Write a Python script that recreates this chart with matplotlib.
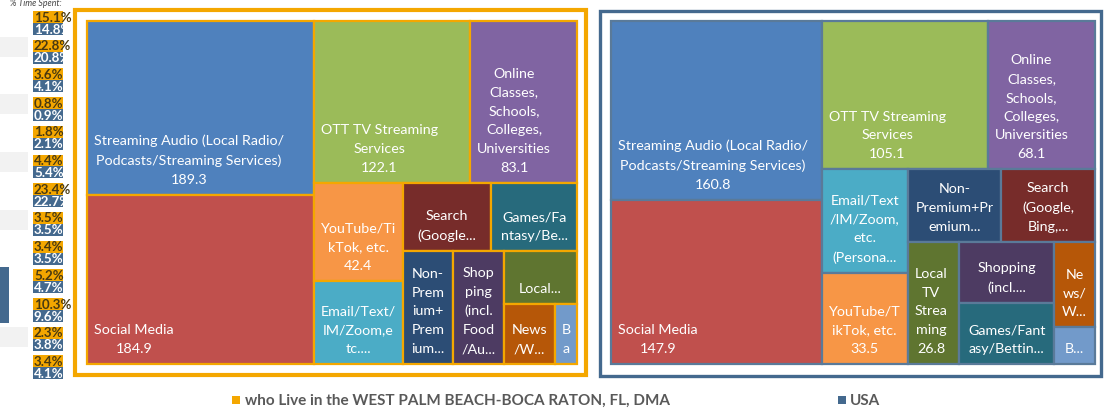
import matplotlib
matplotlib.use("Agg")
import matplotlib.pyplot as plt
from matplotlib.patches import Rectangle

# ---------------- data ----------------
categories = ["OTT TV Streaming Services", "Social Media", "Search", "Banking",
              "News/Weather", "Email/Text/IM/Zoom", "Streaming Audio",
              "Games/Fantasy/Betting", "Shopping", "YouTube/TikTok",
              "Online Classes", "Local TV Streaming", "Non-Premium+Premium"]
pct_local = [15.1, 22.8, 3.6, 0.8, 1.8, 4.4, 23.4, 3.5, 3.4, 5.2, 10.3, 2.3, 3.4]
pct_usa = [14.8, 20.8, 4.1, 0.9, 2.1, 5.4, 22.7, 3.5, 3.5, 4.7, 9.6, 3.8, 4.1]
minutes_local = [122.1, 184.9, 29.1, 6.5, 14.6, 35.6, 189.3, 28.3, 27.5, 42.4, 83.1, 18.6, 27.5]
minutes_usa = [105.1, 147.9, 29.0, 6.4, 14.9, 38.2, 160.8, 24.8, 24.8, 33.5, 68.1, 26.8, 29.0]

names_local = ["OTT TV Streaming\nServices", "Social Media", "Search\n(Google...", "B\na",
               "News\n/W...", "Email/Text/\nIM/Zoom,e\ntc....",
               "Streaming Audio (Local Radio/\nPodcasts/Streaming Services)",
               "Games/Fa\nntasy/Be...", "Shop\nping\n(incl.\nFood\n/Au...",
               "YouTube/Ti\nkTok, etc.", "Online\nClasses,\nSchools,\nColleges,\nUniversities",
               "Local...", "Non-\nPrem\nium+\nPrem\nium..."]
show_val_local = [True, True, False, False, False, False, True, False, False, True, True, False, False]
names_usa = ["OTT TV Streaming\nServices", "Social Media", "Search\n(Google,\nBing,...", "B...",
             "Ne\nws/\nW...", "Email/Text\n/IM/Zoom,\netc.\n(Persona...",
             "Streaming Audio (Local Radio/\nPodcasts/Streaming Services)",
             "Games/Fant\nasy/Bettin...", "Shopping\n(incl....",
             "YouTube/T\nikTok, etc.", "Online\nClasses,\nSchools,\nColleges,\nUniversities",
             "Local\nTV\nStrea\nming", "Non-\nPremium+Pr\nemium..."]
show_val_usa = [True, True, False, False, False, False, True, False, False, True, True, True, False]

legend_labels = ["who Live in the WEST PALM BEACH-BOCA RATON, FL, DMA", "USA"]

# ---------------- style ----------------
tile_colors = ["#9BBB59", "#C0504D", "#772C2A", "#729ACA", "#B65708", "#4BACC6",
               "#4F81BD", "#276A7C", "#4D3B62", "#F79646", "#8064A2", "#5F7530", "#2C4D75"]
ORANGE = "#F4A700"
BLUE = "#44698E"
FONT = "Lato"

# treemap split structure (indices into categories); sizes come from values
tree_local = ('h', [('v', [6, 1]),
                    ('v', [('h', [0, 10]),
                           ('h', [('v', [9, 5]),
                                  ('v', [('h', [2, 7]),
                                         ('h', [12, 8, ('v', [11, ('h', [4, 3])])])])])])])
tree_usa = ('h', [('v', [6, 1]),
                  ('v', [('h', [0, 10]),
                         ('h', [('v', [5, 9]),
                                ('v', [('h', [12, 2]),
                                       ('h', [11, ('v', [8, 7]), ('v', [4, 3])])])])])])


def node_total(node, vals):
    if isinstance(node, int):
        return vals[node]
    return sum(node_total(c, vals) for c in node[1])


def layout(node, vals, x, y, w, h, out):
    if isinstance(node, int):
        out[node] = (x, y, w, h)
        return
    direction, children = node
    sums = [node_total(c, vals) for c in children]
    total = sum(sums)
    for c, s in zip(children, sums):
        if direction == 'h':
            cw = w * s / total
            layout(c, vals, x, y, cw, h, out)
            x += cw
        else:
            ch = h * s / total
            layout(c, vals, x, y, w, ch, out)
            y += ch


fig = plt.figure(figsize=(11.07, 4.11), dpi=100)
ax = fig.add_axes([0, 0, 1, 1])
ax.set_xlim(0, 1107)
ax.set_ylim(411, 0)
ax.axis("off")

# faint background remnants on the left
for yb in [37, 94, 152, 210, 327]:
    ax.add_patch(Rectangle((0, yb), 28, 20, facecolor="#F2F2F2", edgecolor="none"))
ax.add_patch(Rectangle((0, 267), 9, 56, facecolor=BLUE, edgecolor="none"))


def draw_treemap(tree, vals, names, show, area, frame, frame_col, frame_lw, edge_col):
    x0, y0, x1, y1 = area
    rects = {}
    layout(tree, vals, x0, y0, x1 - x0, y1 - y0, rects)
    fx0, fy0, fx1, fy1 = frame
    ax.add_patch(Rectangle((fx0, fy0), fx1 - fx0, fy1 - fy0, facecolor="none",
                           edgecolor=frame_col, linewidth=frame_lw))
    pad = 7
    for i, (x, y, w, h) in rects.items():
        ax.add_patch(Rectangle((x, y), w, h, facecolor=tile_colors[i],
                               edgecolor=edge_col, linewidth=1.6))
        label = names[i] + (f"\n{vals[i]:.1f}" if show[i] else "")
        if names[i].endswith("..."):
            tx, ha = x + w / 2, "center"
        else:
            tx, ha = x + pad, "left"
        ax.text(tx, y + h - 9, label, ha=ha, va="bottom", multialignment="center",
                color="white", fontsize=10.3, family=FONT, linespacing=1.68)


draw_treemap(tree_local, minutes_local, names_local, show_val_local,
             (87, 21, 577, 364), (75, 10, 586, 375), ORANGE, 3.0, ORANGE)
draw_treemap(tree_usa, minutes_usa, names_usa, show_val_usa,
             (611, 21, 1095, 364), (600, 11, 1101, 376), BLUE, 2.4, "#5A7A99")

# % time spent strip
ax.text(10, 4, "% Time Spent:", fontsize=6.3, style="italic", color="#444444",
        family=FONT, va="center", ha="left")
for k, (pl, pu) in enumerate(zip(pct_local, pct_usa)):
    yt = 11 + k * 28.7
    ax.add_patch(Rectangle((33, yt), 30, 12, facecolor=ORANGE, edgecolor="none"))
    ax.add_patch(Rectangle((33, yt + 12), 30, 12, facecolor=BLUE, edgecolor="none"))
    ax.text(34, yt + 6.5, f"{pl:.1f}%", fontsize=9.6, color="#4A3A10", family=FONT,
            fontweight="bold", va="center", ha="left")
    ax.text(34, yt + 18.5, f"{pu:.1f}%", fontsize=9.6, color="white", family=FONT,
            fontweight="bold", va="center", ha="left")

# legend
ax.add_patch(Rectangle((232, 396), 8, 8, facecolor=ORANGE, edgecolor="none"))
ax.text(245, 400.5, legend_labels[0], fontsize=11, fontweight="bold", color="#595959",
        family=FONT, va="center", ha="left")
ax.add_patch(Rectangle((838, 396), 8, 8, facecolor=BLUE, edgecolor="none"))
ax.text(850, 400.5, legend_labels[1], fontsize=11, fontweight="bold", color="#595959",
        family=FONT, va="center", ha="left")

fig.savefig("out.png", dpi=100)
